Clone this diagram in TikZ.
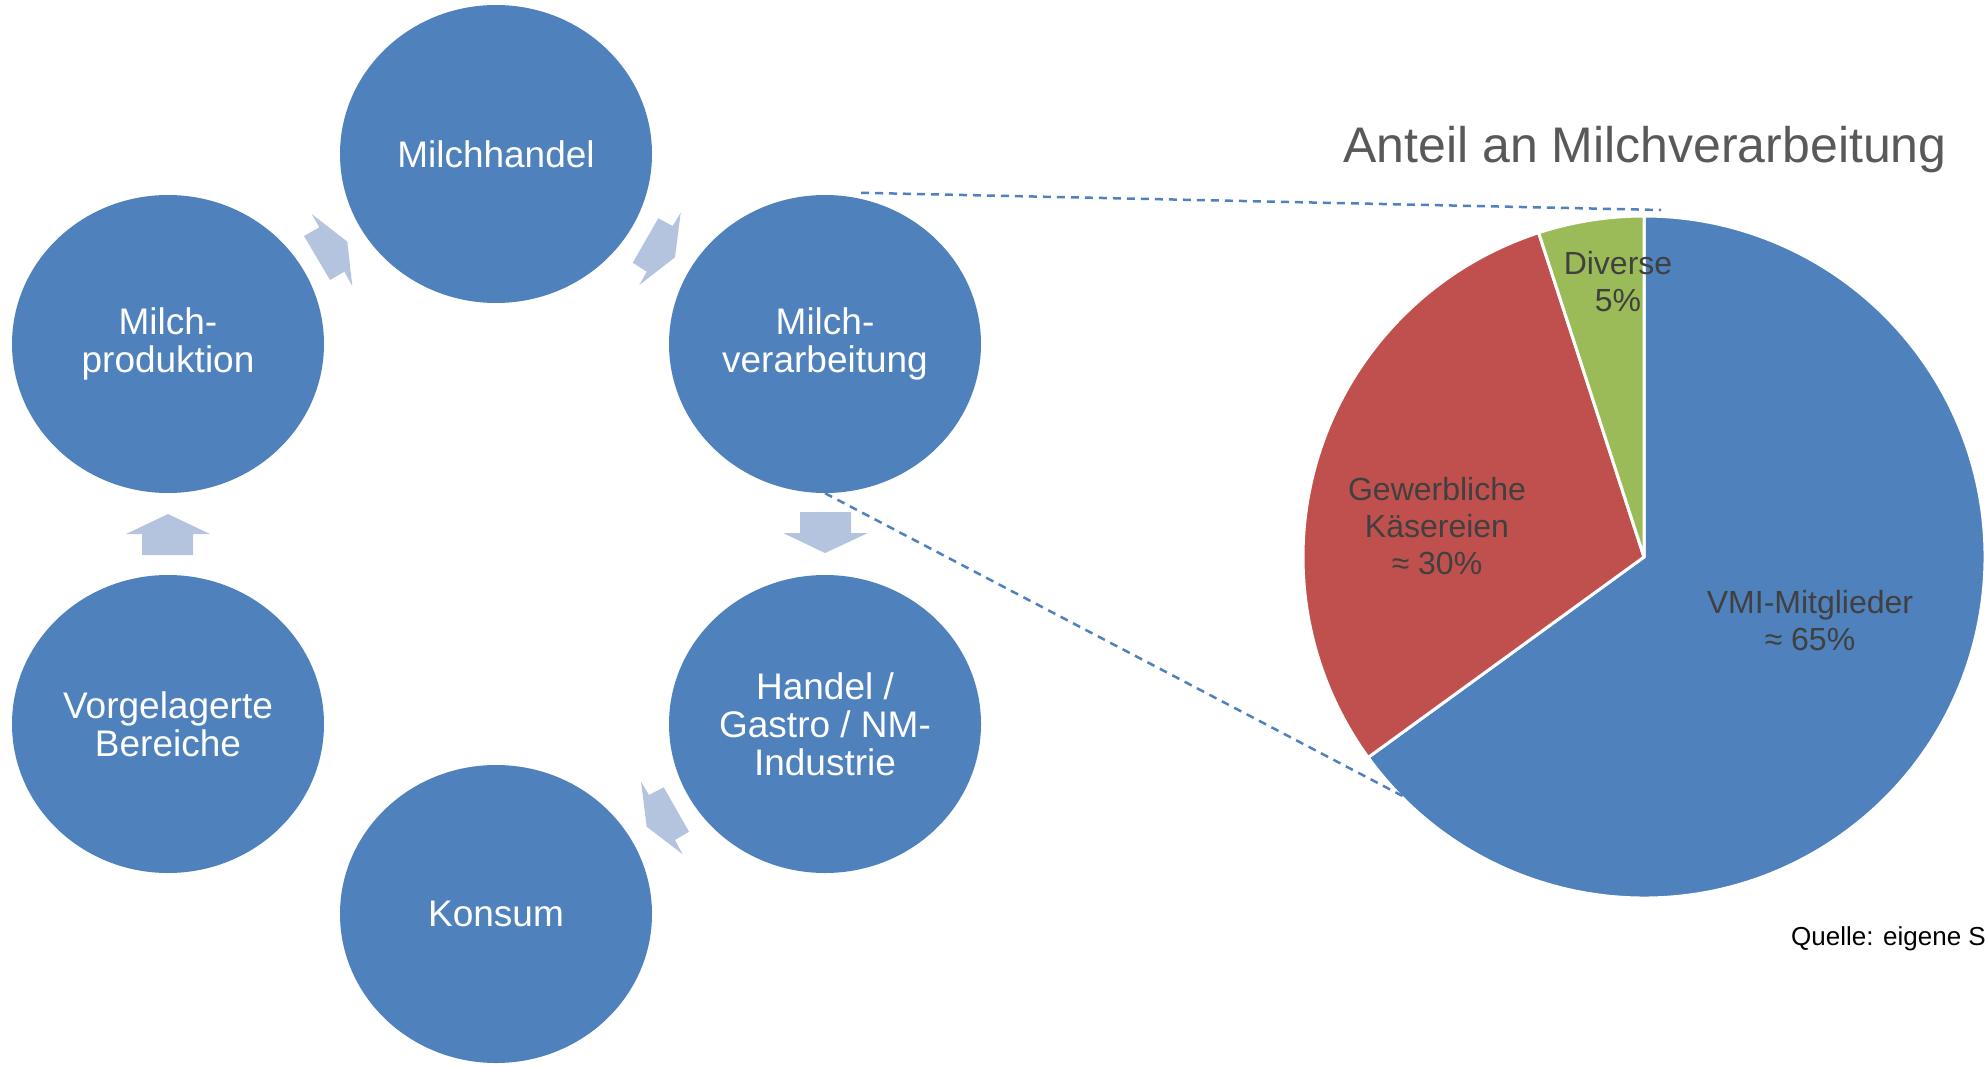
\documentclass[tikz,border=0pt]{standalone}
\usepackage{fontspec}
\setmainfont{Liberation Sans}
\usetikzlibrary{shapes.geometric}
\definecolor{cblue}{RGB}{79,129,189}
\definecolor{cred}{RGB}{192,80,77}
\definecolor{cgreen}{RGB}{155,187,89}
\definecolor{carrow}{RGB}{180,196,222}
\definecolor{ctitle}{RGB}{89,89,89}
\definecolor{clabel}{RGB}{64,64,64}
\tikzset{
  cyc/.style={ellipse, fill=cblue, minimum width=312pt, minimum height=298pt, inner sep=0pt,
    text=white, align=center, font=\fontsize{37}{38}\selectfont},
  blockarrow/.style={fill=carrow},
  zoomline/.style={draw=cblue, line width=2.5pt, dash pattern=on 8pt off 6pt},
  slice/.style={draw=white, line width=3pt, line join=round},
  pielabel/.style={text=clabel, align=center, font=\fontsize{32}{37}\selectfont},
}
\begin{document}
\begin{tikzpicture}[x=1pt,y=-1pt]
\useasboundingbox (0,0) rectangle (1985,1065);
\clip (0,0) rectangle (1985,1065);
% cycle
\node[cyc] (handel) at (496,154) {Milchhandel};
\node[cyc] (prod) at (168,344) {Milch-\\produktion};
\node[cyc] (verarb) at (825,344) {Milch-\\verarbeitung};
\node[cyc] (vorg) at (168,724) {Vorgelagerte\\Bereiche};
\node[cyc] (gastro) at (825,724) {Handel /\\Gastro / NM-\\Industrie};
\node[cyc] (konsum) at (496,914) {Konsum};
% block arrows
\fill[blockarrow] (304,236) -- (319.3,227.3) -- (311.7,214) -- (347.3,241.7) -- (352.3,286) -- (344.3,271.7) -- (330,280) -- cycle;
\fill[blockarrow] (658.3,218.3) -- (672.7,226) -- (680.7,212.7) -- (675,257.3) -- (639.3,285) -- (646.7,271.7) -- (632.7,262.7) -- cycle;
\fill[blockarrow] (800,512) -- (851,512) -- (851,533) -- (868,533) -- (825,553) -- (783,533) -- (800,533) -- cycle;
\fill[blockarrow] (663.7,787.3) -- (649,795) -- (641,781.7) -- (646.7,826.7) -- (682.7,854.3) -- (675,840) -- (689,831.7) -- cycle;
\fill[blockarrow] (142,555) -- (193,555) -- (193,534) -- (210,534) -- (168,514) -- (126,534) -- (142,534) -- cycle;
% title
\node[text=ctitle, font=\fontsize{50}{56}\selectfont] (title) at (1645,150) {Anteil an Milchverarbeitung};
% pie
\coordinate (pc) at (1644,557);
\coordinate (z1) at (1661,210);
\coordinate (z2) at (1435,813);
\filldraw[slice, fill=cblue] (pc) -- ++(216:341pt) arc[start angle=216, end angle=450, radius=341pt] -- cycle;
\filldraw[slice, fill=cred] (pc) -- ++(108:341pt) arc[start angle=108, end angle=216, radius=341pt] -- cycle;
\filldraw[slice, fill=cgreen] (pc) -- ++(90:341pt) arc[start angle=90, end angle=108, radius=341pt] -- cycle;
\node[pielabel] (ldiv) at (1618,282) {Diverse\\5\%};
\node[pielabel] (lgew) at (1437,526) {Gewerbliche\\Käsereien\\≈ 30\%};
\node[pielabel] (lvmi) at (1810,621) {VMI-Mitglieder\\≈ 65\%};
% zoom lines
\draw[zoomline] ([xshift=36pt,yshift=2pt]verarb.north) -- (z1);
\draw[zoomline] (verarb.south) -- (z2);
% source
\node[anchor=west, inner sep=0pt, font=\fontsize{26}{30}\selectfont] (src) at (1791,939) {Quelle: eigene S};
\end{tikzpicture}
\end{document}
